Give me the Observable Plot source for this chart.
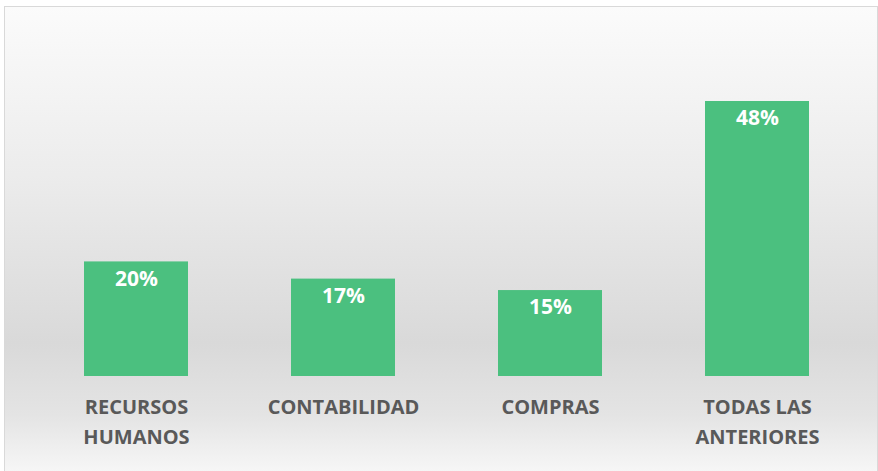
<!DOCTYPE html>
<html>
<head>
<meta charset="utf-8">
<script src="https://cdn.jsdelivr.net/npm/d3@7"></script>
<script src="https://cdn.jsdelivr.net/npm/@observablehq/plot@0.6"></script>
<style>
  html, body { margin: 0; padding: 0; background: #ffffff; overflow: hidden; }
  #bg {
    position: absolute; left: 4px; top: 6px; width: 872px; height: 480px;
    border: 1px solid #d9d9d9;
    background: linear-gradient(to bottom, #fbfbfb 0%, #ececec 35%, #d9d9d9 70%, #e4e4e4 85%, #fbfbfb 100%);
  }
  #chart { position: absolute; left: 0; top: 0; }
</style>
</head>
<body>
<div id="bg"></div>
<div id="chart"></div>
<script>
const categories = ["RECURSOS\nHUMANOS", "CONTABILIDAD", "COMPRAS", "TODAS LAS\nANTERIORES"];
const values = [20, 17, 15, 48];
const valueLabels = ["20%", "17%", "15%", "48%"];

const data = categories.map((c, i) => ({cat: c, value: values[i], label: valueLabels[i]}));

const chart = Plot.plot({
  width: 878,
  height: 471,
  marginLeft: 32,
  marginRight: 17,
  marginTop: 20,
  marginBottom: 95,
  style: {background: "transparent", fontFamily: "'Open Sans', sans-serif"},
  x: {domain: categories, paddingInner: 0.5, paddingOuter: 0.25},
  y: {domain: [0, 48], range: [376, 101], axis: null},
  marks: [
    Plot.barY(data, {x: "cat", y: "value", fill: "#4bc07f"}),
    Plot.text(data, {x: "cat", y: "value", text: "label", lineAnchor: "top", dy: 9,
      fill: "white", fontSize: 21, fontWeight: "bold"}),
    Plot.axisX({tickSize: 0, tickPadding: 16, label: null, fontSize: 20, fontWeight: "bold",
      lineHeight: 1.5, fill: "#595959", lineAnchor: "top"})
  ]
});
document.getElementById("chart").appendChild(chart);
</script>
</body>
</html>
